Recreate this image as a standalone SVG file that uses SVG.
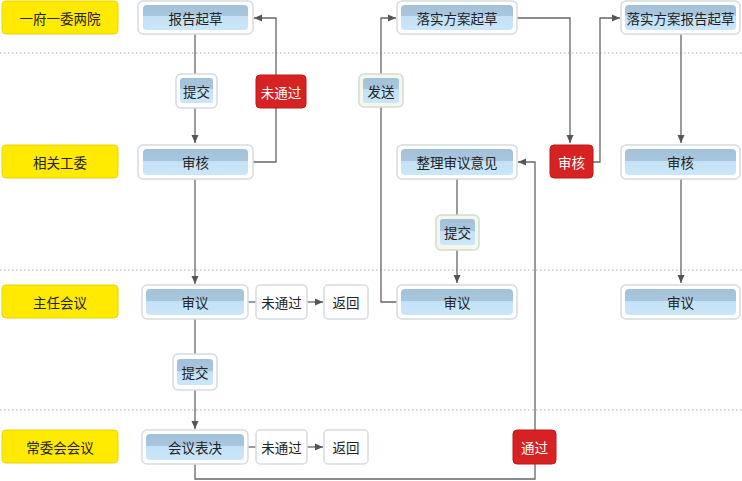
<svg xmlns="http://www.w3.org/2000/svg" width="742" height="481" viewBox="0 0 742 481">
<defs>
<linearGradient id="bar" x1="0" y1="0" x2="0" y2="1">
<stop offset="0" stop-color="#A3C2DA"/>
<stop offset="0.45" stop-color="#A8C6DD"/>
<stop offset="0.45" stop-color="#C3E1F6"/>
<stop offset="1" stop-color="#CBE6F8"/>
</linearGradient>
<marker id="arr" markerUnits="userSpaceOnUse" markerWidth="9" markerHeight="8" refX="8" refY="4" orient="auto">
<path d="M0,0.5 L8,4 L0,7.5 Z" fill="#555"/>
</marker>
</defs>
<style>
text{font-family:"Noto Sans CJK SC","Liberation Sans",sans-serif;font-size:13.5px;fill:#222;text-anchor:middle;dominant-baseline:central}
.yel{fill:#FFEA00;stroke:#E8D400;stroke-width:1}
.out{fill:#FFFFFF;stroke:#D3DCE4;stroke-width:1.5}
.outg{fill:#F3F7EC;stroke:#D3DCD0;stroke-width:1.5}
.bar{fill:url(#bar)}
.red{fill:#D62222;stroke:#C01818;stroke-width:1}
.wt{fill:#FFFFFF}
.ln{fill:none;stroke:#666;stroke-width:1.3}
.dot{stroke:#AAA;stroke-width:1;stroke-dasharray:1.5 2.5}
</style>
<rect width="742" height="481" fill="#FFFFFF"/>
<g id="separators">
<line class="dot" x1="0" y1="53" x2="742" y2="53"/>
<line class="dot" x1="0" y1="270" x2="742" y2="270"/>
<line class="dot" x1="0" y1="410" x2="742" y2="410"/>
</g>
<g id="connectors">
<path class="ln" d="M195,34 V74"/>
<path class="ln" d="M195,108 V143" marker-end="url(#arr)"/>
<path class="ln" d="M253,162 H276 V18 H254" marker-end="url(#arr)"/>
<path class="ln" d="M195,179 V284" marker-end="url(#arr)"/>
<path class="ln" d="M195,319 V354"/>
<path class="ln" d="M195,390 V429" marker-end="url(#arr)"/>
<path class="ln" d="M248,302 H256"/>
<path class="ln" d="M307,302 H323" marker-end="url(#arr)"/>
<path class="ln" d="M248,447 H256"/>
<path class="ln" d="M307,447 H323" marker-end="url(#arr)"/>
<path class="ln" d="M195,464 V479 H535 V162 H518" marker-end="url(#arr)"/>
<path class="ln" d="M397,302 H381 V18 H396" marker-end="url(#arr)"/>
<path class="ln" d="M457,179 V215"/>
<path class="ln" d="M457,250 V283" marker-end="url(#arr)"/>
<path class="ln" d="M517,18 H570 V143" marker-end="url(#arr)"/>
<path class="ln" d="M593,162 H600 V18 H620" marker-end="url(#arr)"/>
<path class="ln" d="M681,34 V143" marker-end="url(#arr)"/>
<path class="ln" d="M681,179 V283" marker-end="url(#arr)"/>
</g>
<g id="lane1"><rect class="yel" x="2" y="1" width="116" height="33" rx="4"/><text x="60" y="17.5">一府一委两院</text></g>
<g id="lane2"><rect class="yel" x="2" y="145" width="116" height="33" rx="4"/><text x="60" y="161.5">相关工委</text></g>
<g id="lane3"><rect class="yel" x="2" y="285" width="116" height="33" rx="4"/><text x="60" y="301.5">主任会议</text></g>
<g id="lane4"><rect class="yel" x="2" y="430" width="116" height="33" rx="4"/><text x="60" y="446.5">常委会会议</text></g>

<g id="n_baogao"><rect class="out" x="138" y="1" width="115" height="33" rx="5"/><rect class="bar" x="143" y="5" width="105" height="25" rx="4"/><text x="195.5" y="17.5">报告起草</text></g>
<g id="n_shenhe1"><rect class="out" x="138" y="145" width="115" height="34" rx="5"/><rect class="bar" x="143" y="149" width="105" height="26" rx="4"/><text x="195.5" y="162">审核</text></g>
<g id="n_shenyi1"><rect class="out" x="142" y="285" width="106" height="34" rx="5"/><rect class="bar" x="146" y="289" width="98" height="26" rx="4"/><text x="195" y="302">审议</text></g>
<g id="n_biaojue"><rect class="out" x="142" y="430" width="106" height="34" rx="5"/><rect class="bar" x="146" y="434" width="98" height="26" rx="4"/><text x="195" y="447">会议表决</text></g>

<g id="n_wtg3"><rect class="out" x="256" y="285" width="51" height="34" rx="4"/><text x="281.5" y="302">未通过</text></g>
<g id="n_fh3"><rect class="out" x="324" y="285" width="44" height="34" rx="4"/><text x="346" y="302">返回</text></g>
<g id="n_wtg4"><rect class="out" x="256" y="430" width="51" height="34" rx="4"/><text x="281.5" y="447">未通过</text></g>
<g id="n_fh4"><rect class="out" x="324" y="430" width="44" height="34" rx="4"/><text x="346" y="447">返回</text></g>

<g id="n_tijiao1"><rect class="out" x="176" y="74" width="41" height="34" rx="5"/><rect class="bar" x="180" y="78" width="33" height="25" rx="3"/><text x="196.5" y="91">提交</text></g>
<g id="n_tijiao2"><rect class="out" x="173" y="354" width="44" height="36" rx="5"/><rect class="bar" x="177" y="359" width="36" height="26" rx="3"/><text x="195" y="372">提交</text></g>
<g id="n_wtg_red"><rect class="red" x="256" y="75" width="50" height="33" rx="4"/><text class="wt" x="281" y="91.5" style="fill:#FFFFFF">未通过</text></g>

<g id="n_fasong"><rect class="outg" x="359" y="74" width="44" height="33" rx="5"/><rect class="bar" x="363" y="78" width="36" height="25" rx="3"/><text x="381" y="90.5">发送</text></g>
<g id="n_luoshi"><rect class="out" x="397" y="1" width="120" height="33" rx="5"/><rect class="bar" x="401" y="5" width="112" height="25" rx="4"/><text x="457" y="17.5">落实方案起草</text></g>
<g id="n_zhengli"><rect class="out" x="397" y="145" width="120" height="34" rx="5"/><rect class="bar" x="401" y="149" width="112" height="26" rx="4"/><text x="457" y="162">整理审议意见</text></g>
<g id="n_tijiao3"><rect class="outg" x="436" y="215" width="43" height="35" rx="5"/><rect class="bar" x="440" y="219" width="35" height="26" rx="3"/><text x="457.5" y="232">提交</text></g>
<g id="n_shenyi3"><rect class="out" x="397" y="285" width="120" height="34" rx="5"/><rect class="bar" x="401" y="289" width="112" height="26" rx="4"/><text x="457" y="302">审议</text></g>

<g id="n_shenhe_red"><rect class="red" x="550" y="145" width="43" height="33" rx="4"/><text x="571.5" y="161.5" style="fill:#FFFFFF">审核</text></g>
<g id="n_tongguo"><rect class="red" x="513" y="430" width="43" height="34" rx="4"/><text x="534.5" y="447" style="fill:#FFFFFF">通过</text></g>

<g id="n_luoshibg"><rect class="out" x="621" y="1" width="119" height="33" rx="5"/><rect class="bar" x="625" y="5" width="111" height="25" rx="4"/><text x="680.5" y="17.5">落实方案报告起草</text></g>
<g id="n_shenhe4"><rect class="out" x="621" y="145" width="119" height="34" rx="5"/><rect class="bar" x="625" y="149" width="111" height="26" rx="4"/><text x="680.5" y="162">审核</text></g>
<g id="n_shenyi4"><rect class="out" x="621" y="285" width="119" height="34" rx="5"/><rect class="bar" x="625" y="289" width="111" height="26" rx="4"/><text x="680.5" y="302">审议</text></g>
</svg>
